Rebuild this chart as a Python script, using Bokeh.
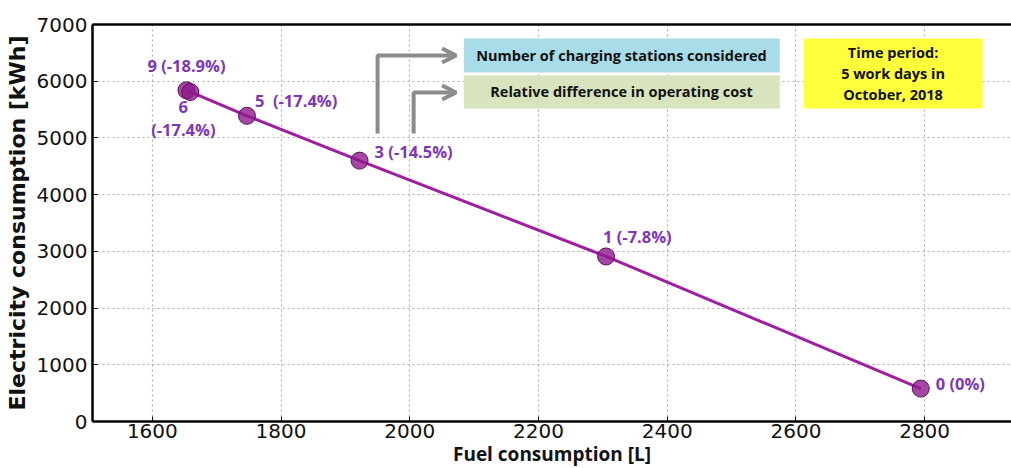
from bokeh.plotting import figure
from bokeh.models import (LinearAxis, FixedTicker, BoxAnnotation, Label, Arrow,
                          OpenHead, ColumnDataSource, Range1d)
from bokeh.embed import file_html
from bokeh.resources import INLINE

# ---- data ----
stations = [9, 6, 5, 3, 1, 0]
fuel_l = [1653, 1659, 1747, 1922, 2305, 2794]
elec_kwh = [5840, 5810, 5390, 4600, 2910, 580]
cost_diff = ["-18.9%", "-17.4%", "-17.4%", "-14.5%", "-7.8%", "0%"]
x_ticks = [1600, 1800, 2000, 2200, 2400, 2600, 2800]
y_ticks = [0, 1000, 2000, 3000, 4000, 5000, 6000, 7000]

legend_top = "Number of charging stations considered"
legend_bottom = "Relative difference in operating cost"
period_lines = ["Time period:", "5 work days in", "October, 2018"]

# ---- styles ----
LINE_C = "#A01EA0"
MARK_C = "#8E1A8C"
LABEL_C = "#7E36B8"
ARROW_C = "#8C8C8C"

p = figure(frame_width=919, frame_height=397, output_backend="svg",
           toolbar_location=None, min_border_left=92, min_border_top=24,
           min_border_bottom=47, min_border_right=0,
           x_range=Range1d(1507, 2935), y_range=Range1d(0, 7000))
p.outline_line_color = None
p.background_fill_color = "white"
p.border_fill_color = "white"

for ax in (p.xaxis[0], p.yaxis[0]):
    ax.axis_line_width = 2.5
    ax.axis_line_color = "black"
    ax.major_tick_in = 5
    ax.major_tick_out = 0
    ax.minor_tick_line_color = None
    ax.major_label_text_font = "DejaVu Sans"
    ax.major_label_text_font_size = "20px"
    ax.major_label_text_color = "#111111"
    ax.axis_label_text_font_style = "bold"
    ax.axis_label_text_color = "#111111"

p.xaxis[0].ticker = FixedTicker(ticks=x_ticks)
p.yaxis[0].ticker = FixedTicker(ticks=y_ticks)
p.xaxis[0].axis_label = "Fuel consumption [L]"
p.xaxis[0].axis_label_text_font = "Open Sans"
p.xaxis[0].axis_label_text_font_size = "19px"
p.xaxis[0].axis_label_standoff = 0
p.xaxis[0].major_label_standoff = 2
p.yaxis[0].axis_label = "Electricity consumption [kWh]"
p.yaxis[0].axis_label_text_font = "DejaVu Sans"
p.yaxis[0].axis_label_text_font_size = "22px"
p.yaxis[0].axis_label_standoff = 4
p.yaxis[0].major_label_standoff = 5

top_ax = LinearAxis(ticker=FixedTicker(ticks=[]), axis_line_width=2.5,
                    axis_line_color="black", major_label_text_font_size="0px",
                    minor_tick_line_color=None, major_tick_line_color=None)
p.add_layout(top_ax, "above")

for g in (p.xgrid[0], p.ygrid[0]):
    g.grid_line_color = "#b0b0b0"
    g.grid_line_dash = "2 3"
    g.grid_line_width = 1.2
p.xgrid[0].ticker = FixedTicker(ticks=x_ticks)
p.ygrid[0].ticker = FixedTicker(ticks=y_ticks)

# ---- series ----
src = ColumnDataSource(dict(x=fuel_l, y=elec_kwh))
p.line("x", "y", source=src, line_color=LINE_C, line_width=3)
p.scatter("x", "y", source=src, size=17, fill_color=MARK_C, fill_alpha=0.8,
          line_color="#5E0F5E", line_width=1)

# ---- point labels (offsets in screen px) ----
label_style = {
    9: dict(dx=0, dy=25, align="center", two_line=False),
    6: dict(dx=-7, dy=-26, align="center", two_line=True),
    5: dict(dx=8, dy=15, align="left", two_line=False),
    3: dict(dx=15, dy=9, align="left", two_line=False),
    1: dict(dx=-3, dy=20, align="left", two_line=False),
    0: dict(dx=15, dy=5, align="left", two_line=False),
}
for s, xv, yv, d in zip(stations, fuel_l, elec_kwh, cost_diff):
    st = label_style[s]
    if st["two_line"]:
        txt = f"{s}\n({d})"
    elif s == 5:
        txt = f"{s}\u00a0 ({d})"
    else:
        txt = f"{s} ({d})"
    p.add_layout(Label(x=xv, y=yv, x_offset=st["dx"], y_offset=st["dy"], text=txt,
                       text_align=st["align"], text_baseline="middle",
                       text_font="Open Sans", text_font_style="bold",
                       text_font_size="16.5px", text_color=LABEL_C,
                       text_line_height=1.0))

# ---- legend boxes ----
p.add_layout(BoxAnnotation(left=2084, right=2575, bottom=6154, top=6754,
                           fill_color="#A8DCE8", fill_alpha=1, line_color=None))
p.add_layout(BoxAnnotation(left=2084, right=2575, bottom=5519, top=6101,
                           fill_color="#D7E4BD", fill_alpha=1, line_color=None))
p.add_layout(BoxAnnotation(left=2612, right=2890, bottom=5519, top=6754,
                           fill_color="#FFFF3C", fill_alpha=1, line_color=None))

box_text = dict(text_align="center", text_baseline="middle",
                text_font="Open Sans", text_font_style="bold",
                text_font_size="14.5px", text_color="#111111")
p.add_layout(Label(x=2329, y=6454, text=legend_top, **box_text))
p.add_layout(Label(x=2329, y=5810, text=legend_bottom, **box_text))
p.add_layout(Label(x=2751, y=6136, text="\n".join(period_lines),
                   text_line_height=1.12, **box_text))

# ---- elbow arrows ----
p.line([1950, 1950, 2068], [5078, 6454, 6454], line_color=ARROW_C, line_width=4)
p.line([2006, 2006, 2068], [5078, 5801, 5801], line_color=ARROW_C, line_width=4)
for yy in (6454, 5801):
    p.add_layout(Arrow(x_start=2040, y_start=yy, x_end=2072, y_end=yy,
                       line_color=None,
                       end=OpenHead(size=14, line_color=ARROW_C, line_width=4)))

open("out.html", "w").write(file_html(p, INLINE))
